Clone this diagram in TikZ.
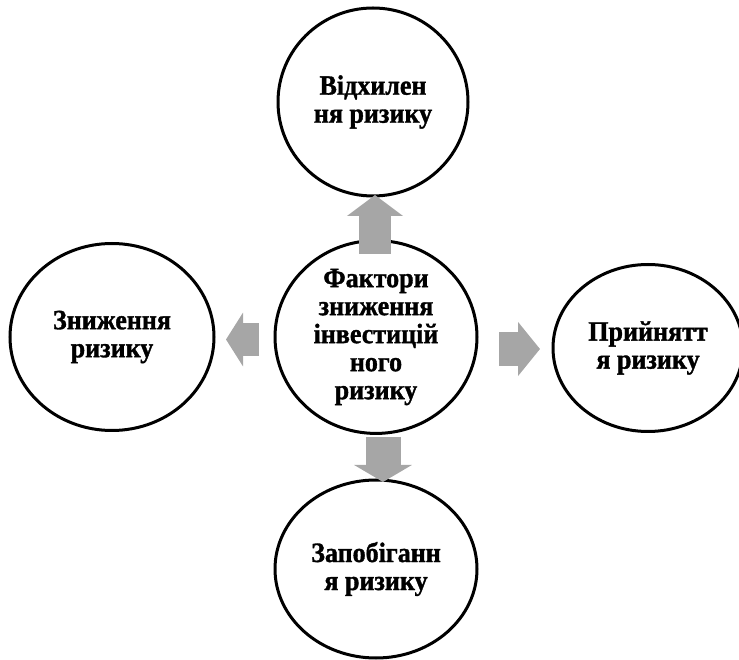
\documentclass[tikz,border=0pt]{standalone}
\usepackage{fontspec}
\setmainfont{Liberation Serif}[FakeStretch=0.93, BoldFeatures={FakeBold=1.2}]
\usepackage{tikz}
\usetikzlibrary{shapes.geometric,arrows.meta}
\definecolor{arrowgray}{RGB}{166,166,166}
\tikzset{
  riskcircle/.style={draw, ellipse, line width=3pt, inner sep=0pt, align=center,
    font=\bfseries\fontsize{28}{28}\selectfont},
  blockarrow/.style={draw=arrowgray, line width=#1, line cap=butt},
}

\begin{document}
\begin{tikzpicture}[x=1pt,y=1pt]
          \useasboundingbox (0,0) rectangle (739,659);
          % circles
          \node [riskcircle, minimum width=190, minimum height=188] (vid) at (373,557) {Відхилен\\ня ризику};
          \node [riskcircle, minimum width=202, minimum height=187] (fac) at (376,322) {Фактори\\зниження\\інвестицій\\ного\\ризику};
          \node [riskcircle, minimum width=204, minimum height=187] (zn) at (112,322) {Зниження\\ризику};
          \node [riskcircle, minimum width=190, minimum height=167] (pr) at (648,311) {Прийнятт\\я ризику};
          \node [riskcircle, minimum width=202, minimum height=178] (zap) at (376,90) {Запобіганн\\я ризику};
          % arrow ends
          \coordinate (upS) at (375,405);
          \coordinate (upT) at (375,464);
          \coordinate (dnS) at (383,222);
          \coordinate (dnT) at (383,177);
          \coordinate (ltS) at (259,319.5);
          \coordinate (ltT) at (226,319.5);
          \coordinate (rtS) at (499,310);
          \coordinate (rtT) at (540,310);
          \draw [blockarrow=32pt, -{Triangle[width=55pt,length=21pt,fill=arrowgray]}] (upS)--(upT);
          \draw [blockarrow=35pt, -{Triangle[width=57pt,length=17pt,fill=arrowgray]}] (dnS)--(dnT);
          \draw [blockarrow=33pt, -{Triangle[width=53pt,length=17pt,fill=arrowgray]}] (ltS)--(ltT);
          \draw [blockarrow=34pt, -{Triangle[width=53pt,length=22pt,fill=arrowgray]}] (rtS)--(rtT);
        \end{tikzpicture}
\end{document}
